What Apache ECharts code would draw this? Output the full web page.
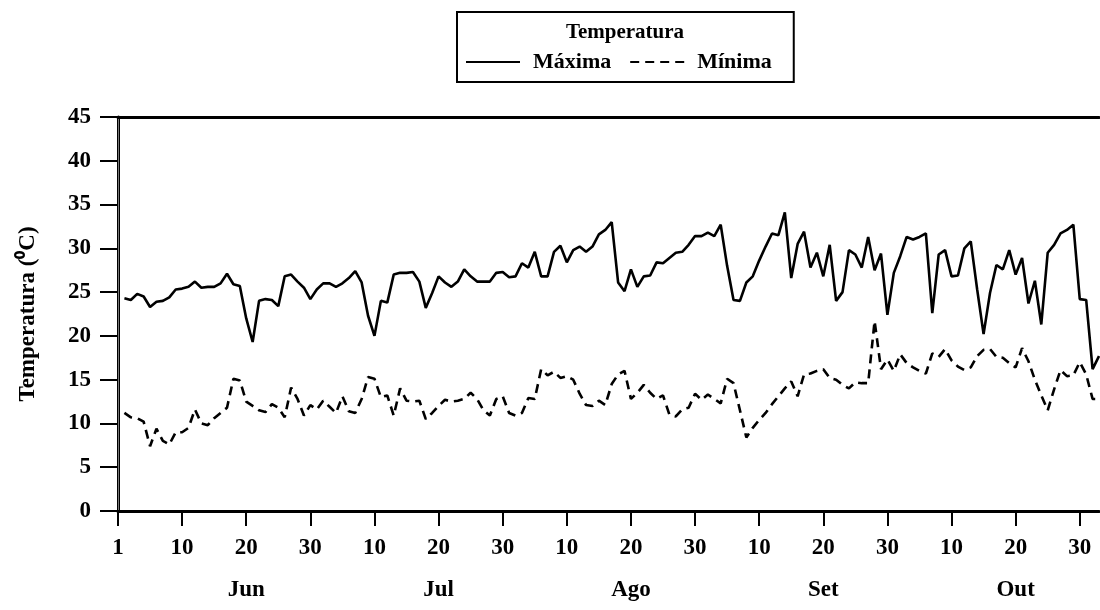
<!DOCTYPE html>
<html><head><meta charset="utf-8">
<script src="https://cdn.jsdelivr.net/npm/echarts@6/dist/echarts.min.js"></script>
<style>html,body{margin:0;padding:0;background:#fff}#c{width:1100px;height:610px}</style>
</head><body><div id="c"></div>
<script>
// Daily maximum temperature, 1 Jun .. 31 Oct (153 days)
const tmax = [
24.3,24.1,24.8,24.5,23.3,23.9,24.0,24.4,25.3,25.4,
25.6,26.2,25.5,25.6,25.6,26.0,27.1,25.9,25.7,22.0,
19.3,24.0,24.2,24.1,23.4,26.8,27.0,26.2,25.5,24.2,
25.3,26.0,26.0,25.6,26.0,26.6,27.4,26.1,22.3,20.0,
24.0,23.8,27.0,27.2,27.2,27.3,26.2,23.2,24.9,26.8,
26.1,25.6,26.2,27.6,26.8,26.2,26.2,26.2,27.2,27.3,
26.7,26.8,28.3,27.8,29.6,26.8,26.8,29.6,30.3,28.4,
29.8,30.2,29.6,30.2,31.6,32.1,33.0,26.1,25.1,27.6,
25.6,26.8,26.9,28.4,28.3,28.9,29.5,29.6,30.4,31.4,
31.4,31.8,31.4,32.7,28.0,24.1,24.0,26.1,26.8,28.6,
30.2,31.7,31.5,34.1,26.6,30.5,31.9,27.8,29.5,26.8,
30.4,24.0,25.0,29.8,29.3,27.8,31.3,27.5,29.4,22.4,
27.2,29.1,31.3,31.0,31.3,31.7,22.6,29.3,29.8,26.8,
26.9,30.0,30.8,25.3,20.2,24.9,28.1,27.6,29.8,27.0,
28.9,23.7,26.3,21.3,29.5,30.4,31.7,32.1,32.7,24.2,
24.1,16.2,17.7
];
// Daily minimum temperature
const tmin = [
11.2,10.7,10.6,10.2,7.4,9.4,8.0,7.6,9.0,9.0,
9.5,11.6,10.0,9.8,10.6,11.2,11.8,15.1,14.9,12.5,
12.0,11.5,11.3,12.2,11.8,10.7,14.1,12.8,10.9,12.1,
11.6,12.6,11.9,11.2,13.1,11.4,11.2,12.8,15.3,15.1,
13.0,13.2,10.9,14.0,12.6,12.5,12.6,10.5,11.2,12.0,
12.7,12.5,12.6,12.8,13.5,12.8,11.5,10.9,12.8,13.1,
11.2,10.9,11.2,12.9,12.8,16.2,15.5,15.9,15.2,15.4,
15.0,13.4,12.1,12.0,12.6,12.1,14.5,15.6,16.0,12.8,
13.5,14.4,13.5,12.8,13.2,11.0,10.8,11.6,11.8,13.4,
12.7,13.3,12.8,12.3,15.1,14.6,11.5,8.4,9.5,10.4,
11.2,12.2,13.1,14.0,14.8,13.1,15.6,15.7,16.0,16.2,
15.2,15.0,14.4,14.0,14.7,14.6,14.6,21.7,16.2,17.3,
16.0,17.9,16.9,16.4,16.0,15.7,18.0,17.6,18.5,17.2,
16.5,16.1,16.4,17.7,18.4,18.5,17.6,17.5,16.9,16.4,
18.6,17.1,15.0,13.2,11.5,13.9,16.1,15.4,15.5,17.0,
15.6,12.8,12.8
];
const tickValues = [0,10,20,30,40,50,60,70,80,90,100,110,120,130,140,150];
const tickLabels = ['1','10','20','30','10','20','30','10','20','30','10','20','30','10','20','30'];
const monthValues = [20,50,80,110,140];
const monthLabels = ['Jun','Jul','Ago','Set','Out'];
const seriesNames = ['Máxima','Mínima'];

const days = tmax.map((_, i) => i + 1);
const FONT = '"Liberation Serif", "Times New Roman", serif';
const txt = {fontFamily: FONT, fontWeight: 'bold', fontSize: 23, color: '#000'};

const chart = echarts.init(document.getElementById('c'), null, {renderer: 'canvas'});
chart.setOption({
  animation: false,
  backgroundColor: '#fff',
  grid: {left: 118, right: 1, top: 117, bottom: 99, containLabel: false},
  graphic: [{
    type: 'text', x: 625, y: 33, z: 100,
    style: {text: 'Temperatura', textAlign: 'center', textVerticalAlign: 'middle',
            font: 'bold 21px ' + FONT, fill: '#000'}
  }],
  legend: {
    data: seriesNames, left: 457, top: 12, orient: 'horizontal',
    padding: [39, 22, 9, 8], itemWidth: 54, itemHeight: 14, itemGap: 18,
    borderColor: '#000', borderWidth: 2,
    itemStyle: {opacity: 0},
    textStyle: {fontFamily: FONT, fontWeight: 'bold', fontSize: 22, color: '#000', padding: [0,0,0,8]}
  },
  xAxis: [{
    type: 'value', min: 0, max: 153, position: 'bottom',
    axisLine: {show: true, lineStyle: {color: '#000', width: 3}},
    axisTick: {show: true, customValues: tickValues, length: 15, inside: false, lineStyle: {color: '#000', width: 2}},
    axisLabel: Object.assign({customValues: tickValues, margin: 26,
      formatter: v => { const k = tickValues.indexOf(v); return k >= 0 ? tickLabels[k] : ''; }}, txt),
    splitLine: {show: false}
  }, {
    type: 'value', min: 0, max: 153, position: 'bottom',
    axisLine: {show: false}, axisTick: {show: false},
    axisLabel: Object.assign({customValues: monthValues, margin: 68,
      formatter: v => { const k = monthValues.indexOf(v); return k >= 0 ? monthLabels[k] : ''; }}, txt),
    splitLine: {show: false}
  }, {
    type: 'value', min: 0, max: 153, position: 'top',
    axisLine: {show: true, lineStyle: {color: '#000', width: 3}},
    axisTick: {show: false}, axisLabel: {show: false}, splitLine: {show: false}
  }],
  yAxis: [{
    type: 'value', min: 0, max: 45, interval: 5, position: 'left',
    name: 'Temperatura (⁰C)', nameLocation: 'middle', nameGap: 78, nameRotate: 90,
    nameTextStyle: {fontFamily: FONT, fontWeight: 'bold', fontSize: 23, color: '#000'},
    axisLine: {show: true, lineStyle: {color: '#000', width: 3}},
    axisTick: {show: true, length: 18, inside: false, lineStyle: {color: '#000', width: 2}},
    axisLabel: Object.assign({margin: 27}, txt),
    splitLine: {show: false}
  }, {
    type: 'value', min: 0, max: 45, position: 'right',
    axisLine: {show: true, lineStyle: {color: '#777', width: 1}},
    axisTick: {show: false}, axisLabel: {show: false}, splitLine: {show: false}
  }],
  series: [{
    name: seriesNames[0], type: 'line', xAxisIndex: 0, yAxisIndex: 0,
    data: days.map((d, i) => [d, tmax[i]]),
    symbol: 'none', lineStyle: {color: '#000', width: 2.6, type: 'solid'},
    itemStyle: {color: '#000'}
  }, {
    name: seriesNames[1], type: 'line', xAxisIndex: 0, yAxisIndex: 0,
    data: days.map((d, i) => [d, tmin[i]]),
    symbol: 'none', lineStyle: {color: '#000', width: 2.6, type: [9, 6]},
    itemStyle: {color: '#000'}
  }]
});
</script></body></html>
